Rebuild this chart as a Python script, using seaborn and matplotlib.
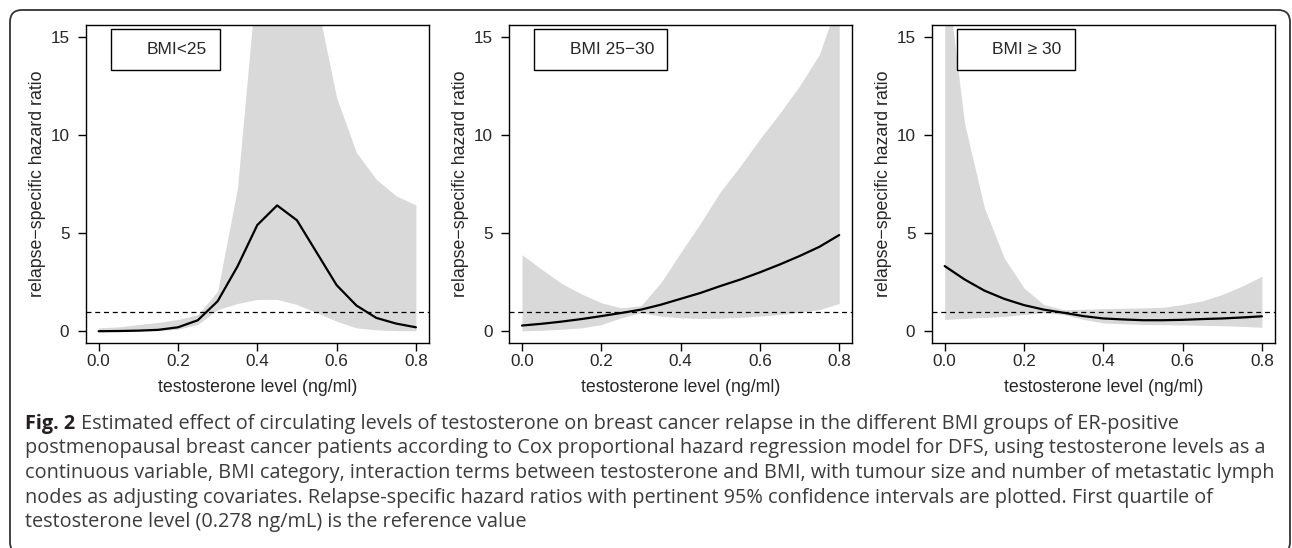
import matplotlib
matplotlib.use("Agg")
import matplotlib.pyplot as plt
import matplotlib.transforms as mtransforms
from matplotlib.patches import FancyBboxPatch
from matplotlib.lines import Line2D
import seaborn as sns
import pandas as pd

# --- data (hazard ratio vs testosterone, 0.05 steps) ---
testo = [0.0, 0.05, 0.1, 0.15, 0.2, 0.25, 0.3, 0.35, 0.4, 0.45,
         0.5, 0.55, 0.6, 0.65, 0.7, 0.75, 0.8]

hr_lt25 = [0.0, 0.01, 0.03, 0.07, 0.2, 0.56, 1.53, 3.3, 5.41, 6.41,
           5.65, 4.0, 2.35, 1.31, 0.68, 0.39, 0.2]
lo_lt25 = [0.0, 0.0, 0.01, 0.03, 0.1, 0.35, 1.1, 1.41, 1.62, 1.62,
           1.36, 0.94, 0.51, 0.17, 0.07, 0.03, 0.02]
hi_lt25 = [0.17, 0.22, 0.34, 0.45, 0.6, 0.85, 2.04, 7.3, 18.4, 22.0,
           20.0, 16.8, 11.9, 9.1, 7.74, 6.9, 6.43]

hr_25_30 = [0.29, 0.38, 0.49, 0.62, 0.77, 0.93, 1.1, 1.35, 1.65, 1.95,
            2.3, 2.63, 3.0, 3.4, 3.83, 4.3, 4.9]
lo_25_30 = [0.02, 0.05, 0.1, 0.17, 0.34, 0.68, 0.94, 0.77, 0.68, 0.65,
            0.66, 0.7, 0.77, 0.85, 0.95, 1.1, 1.41]
hi_25_30 = [3.9, 3.15, 2.43, 1.9, 1.45, 1.19, 1.3, 2.47, 4.0, 5.5,
            7.1, 8.4, 9.8, 11.1, 12.5, 14.1, 17.0]

hr_ge30 = [3.32, 2.64, 2.07, 1.65, 1.33, 1.1, 0.94, 0.77, 0.65, 0.6,
           0.56, 0.56, 0.58, 0.62, 0.65, 0.7, 0.76]
lo_ge30 = [0.6, 0.65, 0.7, 0.75, 0.85, 0.94, 0.85, 0.6, 0.42, 0.38,
           0.34, 0.33, 0.32, 0.3, 0.28, 0.25, 0.2]
hi_ge30 = [18.9, 10.6, 6.3, 3.74, 2.2, 1.36, 1.1, 1.12, 1.15, 1.17,
           1.19, 1.22, 1.36, 1.55, 1.87, 2.3, 2.8]

groups = ["BMI<25", "BMI 25\u221230", "BMI \u2265 30"]
hr_all = [hr_lt25, hr_25_30, hr_ge30]
lo_all = [lo_lt25, lo_25_30, lo_ge30]
hi_all = [hi_lt25, hi_25_30, hi_ge30]

x_ticks = [0.0, 0.2, 0.4, 0.6, 0.8]
y_ticks = [0, 5, 10, 15]

caption_lines = [
    "Estimated effect of circulating levels of testosterone on breast cancer relapse in the different BMI groups of ER-positive",
    "postmenopausal breast cancer patients according to Cox proportional hazard regression model for DFS, using testosterone levels as a",
    "continuous variable, BMI category, interaction terms between testosterone and BMI, with tumour size and number of metastatic lymph",
    "nodes as adjusting covariates. Relapse-specific hazard ratios with pertinent 95% confidence intervals are plotted. First quartile of",
    "testosterone level (0.278 ng/mL) is the reference value",
]

sns.set_style("ticks")
plt.rcParams["font.family"] = ["Liberation Sans", "DejaVu Sans"]
plt.rcParams["axes.linewidth"] = 1.0

W, H = 1292, 548
fig = plt.figure(figsize=(W / 100, H / 100), dpi=100)

# outer rounded frame, in pixels; bottom edge runs off the image
frame = FancyBboxPatch((10, -6), 1280, H - 10 + 6,
                       boxstyle="round,pad=0,rounding_size=12",
                       transform=mtransforms.IdentityTransform(),
                       fill=False, edgecolor="#333333", lw=1.3)
fig.add_artist(frame)

panel_left = [86, 509.3, 932]
ax_w, ax_top, ax_bottom = 342.6, 25, 343

for i in range(3):
    ax = fig.add_axes([panel_left[i] / W, 1 - ax_bottom / H,
                       ax_w / W, (ax_bottom - ax_top) / H])
    df = pd.DataFrame({"t": testo, "hr": hr_all[i],
                       "lo": lo_all[i], "hi": hi_all[i]})
    ax.fill_between(df["t"], df["lo"], df["hi"], color="#d9d9d9", lw=0, zorder=1)
    sns.lineplot(data=df, x="t", y="hr", ax=ax, color="black", lw=1.6, zorder=3)
    ax.axhline(1, color="black", lw=0.9, ls=(0, (4, 3)), zorder=2)

    ax.set_xlim(-0.032, 0.832)
    ax.set_ylim(-0.6, 15.6)
    ax.set_xticks(x_ticks)
    ax.set_xticklabels([f"{v:.1f}" for v in x_ticks])
    ax.set_yticks(y_ticks)
    ax.tick_params(axis="both", direction="out", length=6, width=1,
                   labelsize=12.3, color="black")
    ax.tick_params(axis="x", pad=2)
    ax.tick_params(axis="y", pad=6)
    for sp in ax.spines.values():
        sp.set_visible(True)
        sp.set_color("black")
    ax.set_xlabel("testosterone level (ng/ml)", fontsize=12.8, labelpad=7)
    ax.set_ylabel("relapse\u2212specific hazard ratio", fontsize=12.8, labelpad=3)

    leg = ax.legend(handles=[Line2D([], [], color="none")], labels=[groups[i]],
                    loc="upper left", bbox_to_anchor=(0.072, 0.9865),
                    borderaxespad=0, frameon=True, fancybox=False,
                    edgecolor="black", framealpha=1, fontsize=12.5,
                    handlelength=0.9, handletextpad=0.4, borderpad=0.75)
    leg.get_frame().set_linewidth(1.0)

# caption
cap_font = ["Open Sans", "DejaVu Sans"]
cap_size = 14.3
line_y = [424, 448.5, 473, 497.5, 522]
fig.canvas.draw()
renderer = fig.canvas.get_renderer()
fig_lbl = fig.text(25 / W, 1 - line_y[0] / H, "Fig. 2", family=cap_font,
                   weight="bold", fontsize=cap_size, color="#231f20", va="center")
bb = fig_lbl.get_window_extent(renderer)
fig.text((bb.x1 + 6) / W, 1 - line_y[0] / H, caption_lines[0], family=cap_font,
         fontsize=cap_size, color="#3c3c3c", va="center")
for k in range(1, len(caption_lines)):
    fig.text(25 / W, 1 - line_y[k] / H, caption_lines[k], family=cap_font,
             fontsize=cap_size, color="#3c3c3c", va="center")

fig.savefig("out.png", dpi=100)
